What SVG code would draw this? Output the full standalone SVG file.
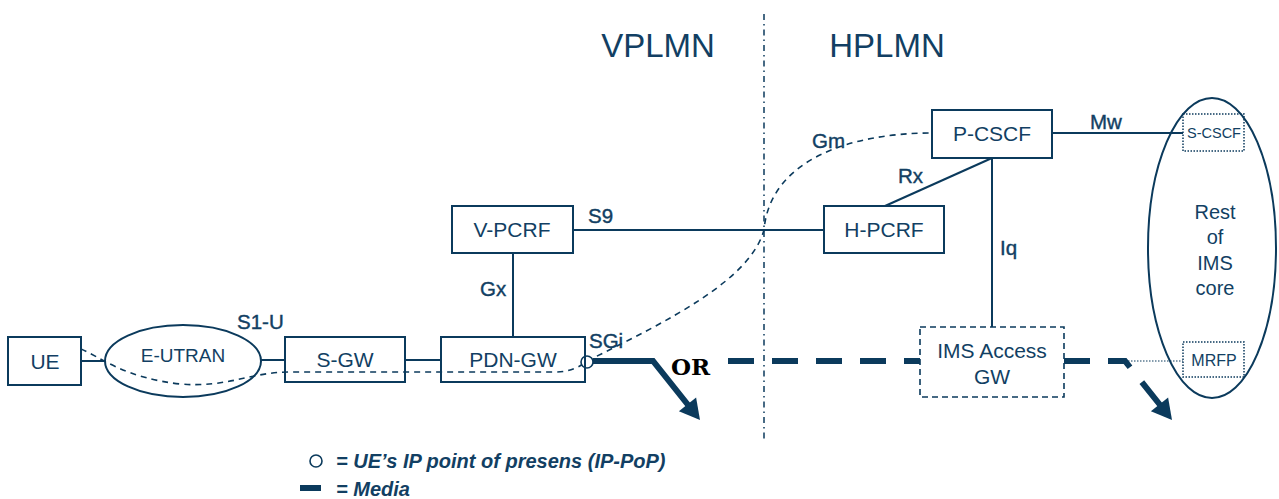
<svg xmlns="http://www.w3.org/2000/svg" width="1279" height="499" viewBox="0 0 1279 499">
<style>
.box{fill:none;stroke:#0b3a5c;stroke-width:2}
.dbox{fill:none;stroke:#0b3a5c;stroke-width:1.6;stroke-dasharray:6 4}
.obox{fill:none;stroke:#0b3a5c;stroke-width:1.5;stroke-dasharray:1.5 1.5}
.ln{fill:none;stroke:#0b3a5c;stroke-width:2}
.sig{fill:none;stroke:#0b3a5c;stroke-width:1.6;stroke-dasharray:6 5}
.media{fill:none;stroke:#0b3a5c;stroke-width:6}
.head{fill:#0b3a5c}
.t{font-family:"Liberation Sans",Arial,sans-serif;fill:#123f63;text-anchor:middle}
.n{font-size:21px}
.lb{font-family:"Liberation Sans",Arial,sans-serif;fill:#123f63;font-size:20.5px;stroke:#123f63;stroke-width:0.4}
.lg{font-family:"Liberation Sans",Arial,sans-serif;font-style:italic;font-weight:bold;font-size:20px;fill:#123f63}
</style>

<!-- boundary -->
<line x1="764" y1="14" x2="764" y2="440" stroke="#0b3a5c" stroke-width="1.5" stroke-dasharray="6 4 1.5 4"/>
<text class="t" x="658" y="57" font-size="33">VPLMN</text>
<text class="t" x="887" y="57" font-size="33">HPLMN</text>

<g id="connectors">
<line class="ln" x1="81" y1="361" x2="105" y2="361"/>
<line class="ln" x1="261" y1="360" x2="285" y2="360"/>
<line class="ln" x1="405" y1="360" x2="441" y2="360"/>
<line class="ln" x1="513" y1="253" x2="513" y2="337"/>
<line class="ln" x1="573" y1="230" x2="824" y2="230"/>
<line class="ln" x1="885" y1="206" x2="992" y2="158"/>
<line class="ln" x1="992" y1="158" x2="992" y2="327"/>
<line class="ln" x1="1052" y1="133" x2="1183" y2="133"/>
<line x1="1128" y1="361" x2="1183" y2="361" stroke="#0b3a5c" stroke-width="1.2" stroke-dasharray="1.5 1.5"/>
<path class="sig" d="M81,349 C100,357 125,378 180,384 C228,388 250,372 290,372 L555,372 C570,372 580,367 587,361"/>
<path class="sig" d="M587,361 C670,320 750,280 764,230 C770,160 850,133 932,133"/>
<path class="media" d="M593,361 L653,361 L688.5,405.5"/>
<polygon class="head" points="700,420 678.9,411.3 696.1,397.6"/>
<path class="media" d="M728,361 L920,361" stroke-dasharray="26 18"/>
<path class="media" d="M1064,361 L1125,361 L1160.5,405.5" stroke-dasharray="26 18 25 19 40"/>
<polygon class="head" points="1172,420 1150.9,411.3 1168.1,397.6"/>
<circle cx="587" cy="362" r="6" fill="#fff" stroke="#0b3a5c" stroke-width="1.6"/>
<text class="lb" x="237" y="329">S1-U</text>
<text class="lb" x="589" y="348">SGi</text>
<text class="lb" x="480" y="296">Gx</text>
<text class="lb" x="588" y="223">S9</text>
<text class="lb" x="812" y="148">Gm</text>
<text class="lb" x="898" y="183">Rx</text>
<text class="lb" x="1000" y="255">Iq</text>
<text class="lb" x="1090" y="129">Mw</text>
<text x="671" y="375" font-family="'DejaVu Serif','Liberation Serif',serif" font-weight="bold" font-size="23" fill="#000">OR</text>
</g>

<g id="ue"><rect class="box" x="8" y="337" width="73" height="48"/><text class="t n" x="45" y="369">UE</text></g>
<g id="eutran"><ellipse class="box" cx="183" cy="361" rx="78" ry="36"/><text class="t" x="183" y="362" font-size="19">E-UTRAN</text></g>
<g id="sgw"><rect class="box" x="285" y="337" width="120" height="45"/><text class="t n" x="345" y="367">S-GW</text></g>
<g id="pdngw"><rect class="box" x="441" y="337" width="144" height="45"/><text class="t n" x="513" y="367">PDN-GW</text></g>
<g id="vpcrf"><rect class="box" x="452" y="206" width="121" height="47"/><text class="t n" x="512" y="237">V-PCRF</text></g>
<g id="hpcrf"><rect class="box" x="824" y="206" width="120" height="47"/><text class="t n" x="884" y="237">H-PCRF</text></g>
<g id="pcscf"><rect class="box" x="932" y="110" width="120" height="48"/><text class="t n" x="992" y="141">P-CSCF</text></g>
<g id="imsgw"><rect class="dbox" x="920" y="327" width="144" height="70"/><text class="t n" x="992" y="358">IMS Access</text><text class="t n" x="992" y="384">GW</text></g>
<g id="imscore"><ellipse fill="none" stroke="#0b3a5c" stroke-width="2" cx="1212" cy="248" rx="64" ry="150"/>
<text class="t" font-size="20" x="1215" y="219">Rest</text><text class="t" font-size="20" x="1215" y="244">of</text><text class="t" font-size="20" x="1215" y="270">IMS</text><text class="t" font-size="20" x="1215" y="295">core</text></g>
<g id="scscf"><rect class="obox" x="1183" y="114" width="61" height="37"/><text class="t" font-size="14.5" x="1214" y="138">S-CSCF</text></g>
<g id="mrfp"><rect class="obox" x="1183" y="342" width="61" height="35"/><text class="t" font-size="16" x="1214" y="366">MRFP</text></g>

<g id="legend">
<circle cx="316" cy="461" r="6" fill="#fff" stroke="#0b3a5c" stroke-width="1.6"/>
<text class="lg" x="336" y="468">= UE’s IP point of presens (IP-PoP)</text>
<line x1="300" y1="488" x2="321" y2="488" stroke="#0b3a5c" stroke-width="6"/>
<text class="lg" x="336" y="496">= Media</text>
</g>
</svg>
